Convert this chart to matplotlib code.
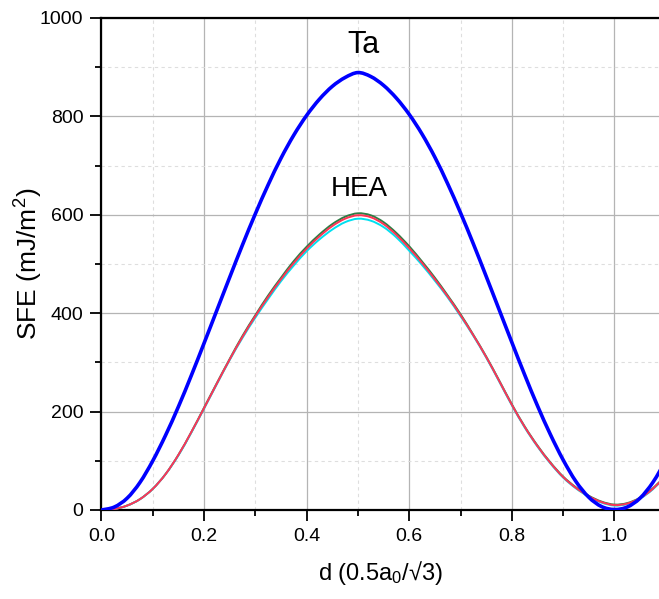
import numpy as np
import matplotlib
matplotlib.use("Agg")
import matplotlib.pyplot as plt
from matplotlib.path import Path
from matplotlib.patches import PathPatch
from matplotlib.ticker import MultipleLocator

plt.rcParams['font.family'] = ['Liberation Sans', 'DejaVu Sans']
plt.rcParams['mathtext.fontset'] = 'custom'
plt.rcParams['mathtext.rm'] = 'Liberation Sans'
plt.rcParams['mathtext.it'] = 'Liberation Sans'

# displacement d (0.5a0/sqrt3), sampled every 0.025
d = [0.000, 0.025, 0.050, 0.075, 0.100, 0.125, 0.150, 0.175, 0.200, 0.225,
     0.250, 0.275, 0.300, 0.325, 0.350, 0.375, 0.400, 0.425, 0.450, 0.475,
     0.500, 0.525, 0.550, 0.575, 0.600, 0.625, 0.650, 0.675, 0.700, 0.725,
     0.750, 0.775, 0.800, 0.825, 0.850, 0.875, 0.900, 0.925, 0.950, 0.975,
     1.000, 1.025, 1.050, 1.075, 1.100]

# SFE (mJ/m^2)
sfe_ta = [0, 6, 24, 56, 100, 152, 210, 273, 339, 406,
          473, 539, 602, 661, 715, 762, 802, 835, 861, 879,
          889, 881, 863, 837, 804, 764, 717, 663, 604, 541,
          475, 408, 341, 275, 212, 154, 102, 58, 26, 7,
          1, 6, 24, 56, 100]

sfe_hea_red = [0, 2, 9, 22, 43, 73, 112, 158, 207, 257,
               306, 352, 394, 433, 469, 502, 531, 556, 577, 592,
               599, 595, 581, 559, 532, 502, 469, 434, 396, 355,
               311, 263, 214, 169, 130, 96, 67, 45, 28, 16,
               10, 13, 24, 43, 69]

sfe_hea_green = [0, 2, 9, 22, 43, 73, 112, 158, 208, 258,
                 307, 354, 396, 436, 472, 506, 535, 560, 581, 596,
                 603, 599, 585, 563, 536, 505, 472, 436, 398, 356,
                 312, 264, 215, 170, 131, 97, 68, 46, 29, 17,
                 11, 14, 25, 44, 70]

sfe_hea_cyan = [0, 2, 9, 22, 43, 73, 111, 157, 206, 256,
                305, 350, 391, 429, 465, 497, 526, 550, 570, 585,
                592, 588, 575, 554, 527, 498, 466, 432, 394, 354,
                310, 262, 213, 168, 129, 95, 66, 44, 27, 15,
                9, 12, 23, 42, 68]


def smooth_line(ax, x, y, **kw):
    # cubic bezier segments through the points (catmull-rom tangents)
    x = np.asarray(x, float)
    y = np.asarray(y, float)
    n = len(x)
    verts = [(x[0], y[0])]
    codes = [Path.MOVETO]
    for i in range(n - 1):
        i0 = max(i - 1, 0)
        i3 = min(i + 2, n - 1)
        c1 = (x[i] + (x[i + 1] - x[i0]) / 6, y[i] + (y[i + 1] - y[i0]) / 6)
        c2 = (x[i + 1] - (x[i3] - x[i]) / 6, y[i + 1] - (y[i3] - y[i]) / 6)
        verts += [c1, c2, (x[i + 1], y[i + 1])]
        codes += [Path.CURVE4] * 3
    patch = PathPatch(Path(verts, codes), fill=False, capstyle='round',
                      joinstyle='round', **kw)
    ax.add_patch(patch)
    return patch


fig = plt.figure(figsize=(6.59, 5.99), dpi=100)
ax = fig.add_axes([0.154, 0.1486, 0.846, 0.8214])

smooth_line(ax, d, sfe_hea_green, edgecolor='#2f7d45', lw=1.4, zorder=3)
smooth_line(ax, d, sfe_hea_cyan, edgecolor='#00e0f0', lw=1.4, zorder=3)
smooth_line(ax, d, sfe_hea_red, edgecolor='#ff3355', lw=1.4, zorder=4)
smooth_line(ax, d, sfe_ta, edgecolor='#0000ff', lw=2.6, zorder=5)

ax.set_xlim(0, 1.087)
ax.set_ylim(0, 1000)
ax.xaxis.set_major_locator(MultipleLocator(0.2))
ax.xaxis.set_minor_locator(MultipleLocator(0.1))
ax.yaxis.set_major_locator(MultipleLocator(200))
ax.yaxis.set_minor_locator(MultipleLocator(100))

ax.grid(which='major', color='#b4b4b4', lw=0.9, ls='-', zorder=0)
ax.grid(which='minor', color='#dedede', lw=0.8, ls=(0, (3, 3)), zorder=0)
ax.set_axisbelow(True)

ax.tick_params(which='major', direction='out', length=8, width=1.3,
               labelsize=14, pad=5)
ax.tick_params(which='minor', direction='out', length=4, width=1.3)
ax.tick_params(top=False, right=False)
for s in ['left', 'bottom', 'top']:
    ax.spines[s].set_linewidth(1.6)
ax.spines['right'].set_visible(False)

ax.set_xlabel('d (0.5a$_0$/\u221a3)', fontsize=17, labelpad=10)
ax.set_ylabel('SFE (mJ/m$^2$)', fontsize=19)
ax.yaxis.set_label_coords(-0.102, 0.5)

ax.text(0.51, 945, 'Ta', fontsize=22, ha='center', va='center')
ax.text(0.503, 652, 'HEA', fontsize=20, ha='center', va='center')

fig.savefig('out.png', dpi=100)
